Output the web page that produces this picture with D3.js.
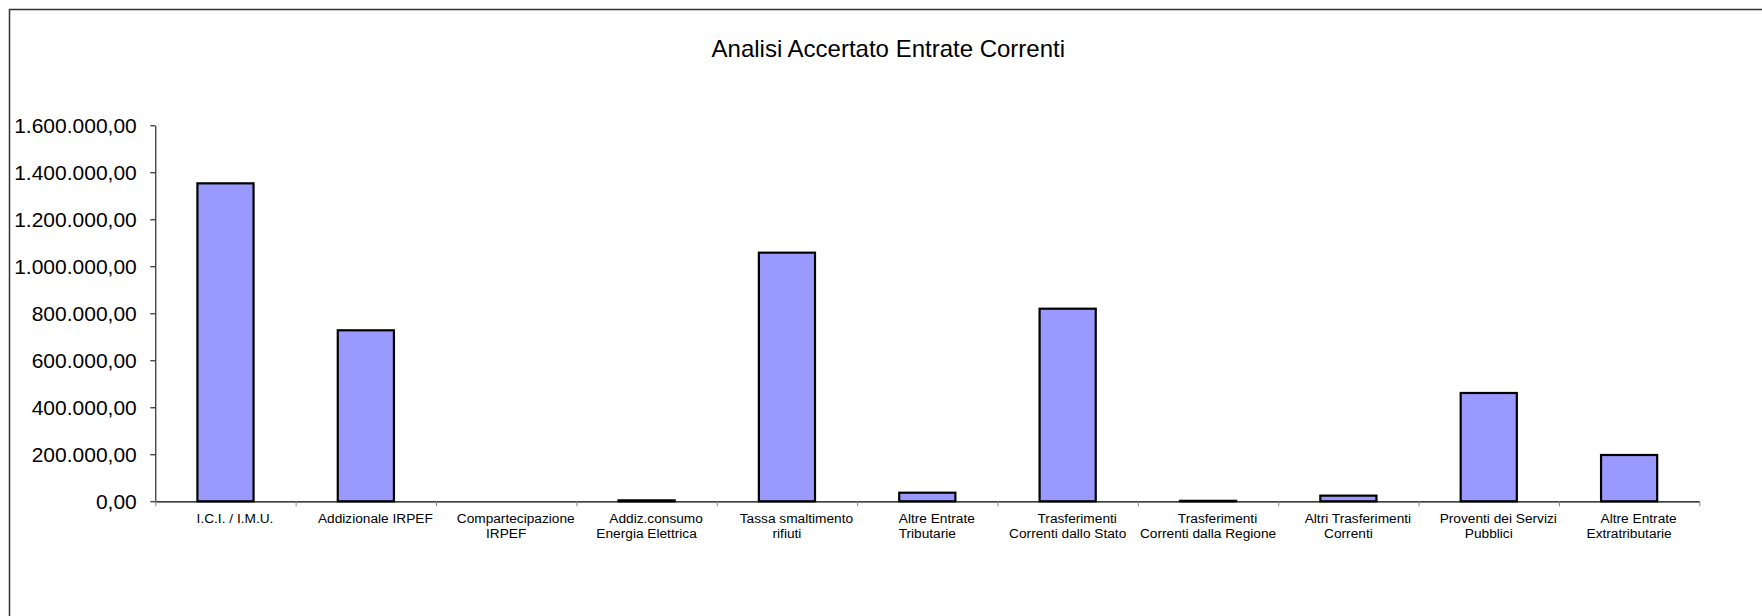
<!doctype html>
<html>
<head>
<script src="https://d3js.org/d3.v7.min.js"></script>
<style>
body { margin: 0; background: #fff; }
svg { display: block; font-family: "Liberation Sans", Arial, sans-serif; }
</style>
</head>
<body>
<svg width="1762" height="616"></svg>
<script>
// data ("\n" = where the label wraps)
var categories = [
    "I.C.I. / I.M.U.",
    "Addizionale IRPEF",
    "Compartecipazione\nIRPEF",
    "Addiz.consumo\nEnergia Elettrica",
    "Tassa smaltimento\nrifiuti",
    "Altre Entrate\nTributarie",
    "Trasferimenti\nCorrenti dallo Stato",
    "Trasferimenti\nCorrenti dalla Regione",
    "Altri Trasferimenti\nCorrenti",
    "Proventi dei Servizi\nPubblici",
    "Altre Entrate\nExtratributarie"
];
var values = [1353000, 727700, 0, 4000, 1058000, 36600, 819600, 2000, 24000, 460900, 197000];
var yTicks = [0, 200000, 400000, 600000, 800000, 1000000, 1200000, 1400000, 1600000];
var title = "Analisi Accertato Entrate Correnti";

var svg = d3.select("svg"),
    plotLeft = 155.3, plotRight = 1699.3,
    plotTop = 125.3, plotBottom = 501.3;

var it = d3.formatLocale({decimal: ",", thousands: ".", grouping: [3], currency: ["", ""]});
var fmt = it.format(",.2f");

var x = d3.scaleBand()
    .domain(categories)
    .range([plotLeft, plotRight])
    .paddingInner(0.6)
    .paddingOuter(0.3);

// category boundaries for the tick marks
var xIdx = d3.scaleLinear().domain([0, categories.length]).range([plotLeft, plotRight]);

var y = d3.scaleLinear().domain([0, 1600000]).range([plotBottom, plotTop]);

// outer frame (right / bottom edges fall outside the picture)
svg.append("rect")
    .attr("x", 9.5).attr("y", 9.5)
    .attr("width", 1800).attr("height", 700)
    .style("fill", "none")
    .style("stroke", "#333")
    .style("stroke-width", 1.5);

// Title
svg.append("text")
    .attr("x", 888.3)
    .attr("y", 57)
    .attr("text-anchor", "middle")
    .style("font-size", "24px")
    .text(title);

// bars
svg.append("g")
    .selectAll("rect")
    .data(values)
    .enter()
    .append("rect")
    .attr("x", function(d, i) { return x(categories[i]); })
    .attr("y", function(d) { return y(d); })
    .attr("width", x.bandwidth())
    .attr("height", function(d) { return y(0) - y(d); })
    .style("fill", "#9999ff")
    .style("stroke", "#000")
    .style("stroke-width", 2.2);

// Y axis
var gy = svg.append("g")
    .attr("transform", "translate(" + plotLeft + ",0)")
    .call(d3.axisLeft(y).tickValues(yTicks).tickFormat(fmt)
        .tickSize(5).tickSizeOuter(0).tickPadding(13.5));
gy.attr("font-family", null).attr("font-size", null);
gy.select(".domain").style("stroke", "#000");
gy.selectAll("text").style("font-size", "21px").style("fill", "#000");

// X axis: boundary ticks
var gt = svg.append("g")
    .attr("transform", "translate(0," + plotBottom + ")")
    .call(d3.axisBottom(xIdx).tickValues(d3.range(categories.length + 1))
        .tickFormat("").tickSize(5).tickSizeOuter(0));
gt.select(".domain").style("stroke", "#000").style("stroke-width", 1.3);
gt.selectAll(".tick line").style("stroke", "#888");

// X axis: labels
var gx = svg.append("g")
    .attr("transform", "translate(0," + plotBottom + ")")
    .call(d3.axisBottom(x).tickSize(0).tickSizeOuter(0));
gx.attr("font-family", null).attr("font-size", null);
gx.select(".domain").remove();

gx.selectAll(".tick text")
    .attr("y", 22)
    .attr("dy", null)
    .style("font-size", "13.7px")
    .style("fill", "#000")
    .each(function(d) {
        var t = d3.select(this).text("");
        d.split("\n").forEach(function(line, k) {
            t.append("tspan")
                .attr("x", k == 0 ? 9.5 : 0)
                .attr("y", 22 + k * 15)
                .text(line);
        });
    });
</script>
</body>
</html>
